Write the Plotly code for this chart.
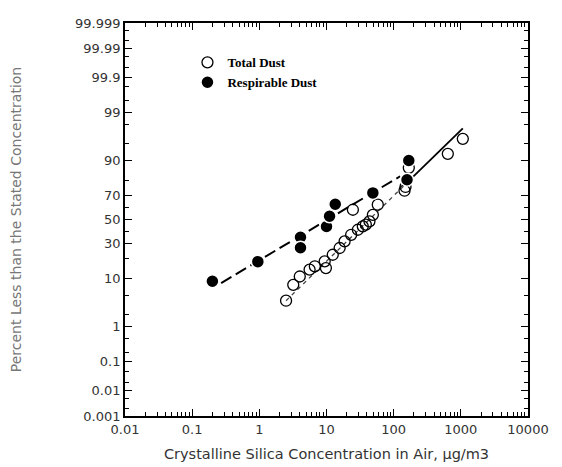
import math
import plotly.graph_objects as go

# ---------------- data ----------------
resp_conc = [0.2, 0.95, 4.1, 4.1, 10, 11.1, 13.5, 49, 158, 168]
resp_pct = [9, 18, 35, 27, 44, 52.8, 63, 71.8, 80.6, 90]

total_conc = [2.5, 3.2, 4.0, 5.6, 6.7, 9.4, 9.8, 12.4, 15.7, 18.6, 23.3, 24.7,
              29.3, 34.7, 38.5, 43.6, 49, 58, 145, 150, 168, 640, 1070]
total_pct = [3.9, 7.8, 10.8, 13.8, 15.5, 18.2, 14.6, 22.2, 26.8, 31.8, 37, 58.4,
             41.2, 44.1, 45.6, 48.4, 54, 62.6, 73.4, 76, 86.9, 92.3, 96]

resp_fit_conc = [0.27, 125]
resp_fit_pct = [8.4, 82.6]
total_fit_low_conc = [2.5, 150]
total_fit_low_pct = [3.9, 77.8]
total_fit_high_conc = [150, 1070]
total_fit_high_pct = [77.8, 97.6]

y_tick_labels = ["0.001", "0.01", "0.1", "1", "10", "30", "50", "70", "90",
                 "99", "99.9", "99.99", "99.999"]
y_minor_pct = [0.002, 0.005, 0.02, 0.05, 0.2, 0.5, 2, 5, 20, 40, 60, 80, 95,
               98, 99.5, 99.8, 99.95, 99.98, 99.995, 99.998]
x_tick_vals = [0.01, 0.1, 1, 10, 100, 1000, 10000]
x_tick_labels = ["0.01", "0.1", "1", "10", "100", "1000", "10000"]


# -------- probability (probit) scale --------
def probit(pct):
    p = pct / 100.0
    lo, hi = -10.0, 10.0
    for _ in range(200):
        mid = 0.5 * (lo + hi)
        if 0.5 * (1 + math.erf(mid / math.sqrt(2))) < p:
            lo = mid
        else:
            hi = mid
    return 0.5 * (lo + hi)


def pz(lst):
    return [probit(v) for v in lst]


x_minor = [k * 10 ** d for d in range(-2, 4) for k in range(2, 10)]

fig = go.Figure()

# fitted lines
fig.add_trace(go.Scatter(x=resp_fit_conc, y=pz(resp_fit_pct), mode="lines",
                         line=dict(color="black", width=2, dash="12px,5px"),
                         showlegend=False, hoverinfo="skip"))
fig.add_trace(go.Scatter(x=total_fit_low_conc, y=pz(total_fit_low_pct), mode="lines",
                         line=dict(color="#444", width=1.3, dash="4px,4px"),
                         showlegend=False, hoverinfo="skip"))
fig.add_trace(go.Scatter(x=total_fit_high_conc, y=pz(total_fit_high_pct), mode="lines",
                         line=dict(color="black", width=1.8),
                         showlegend=False, hoverinfo="skip"))

# data points
fig.add_trace(go.Scatter(x=total_conc, y=pz(total_pct), mode="markers",
                         name="Total Dust",
                         marker=dict(symbol="circle-open", size=11, color="black",
                                     line=dict(width=1.3, color="black"))))
fig.add_trace(go.Scatter(x=resp_conc, y=pz(resp_pct), mode="markers",
                         name="Respirable Dust",
                         marker=dict(symbol="circle", size=13, color="black",
                                     line=dict(width=1.5, color="white"))))

ylim = probit(99.999)

fig.update_layout(
    width=562, height=467,
    margin=dict(l=117, r=42, t=15, b=59),
    paper_bgcolor="white", plot_bgcolor="white",
    font=dict(family="DejaVu Sans", size=13, color="#222"),
    showlegend=True,
    legend=dict(x=0.155, y=0.938, xanchor="left", yanchor="top",
                bgcolor="rgba(0,0,0,0)", borderwidth=0,
                font=dict(family="Liberation Serif", size=13, color="black",
                          weight="bold"),
                tracegroupgap=2),
    xaxis=dict(
        type="log", range=[-2, 4], automargin=False,
        tickvals=x_tick_vals, ticktext=x_tick_labels,
        ticks="inside", ticklen=7, tickwidth=1.3, tickcolor="black",
        showline=True, linecolor="black", linewidth=1.8, mirror="ticks",
        showgrid=False, zeroline=False,
        minor=dict(tickvals=x_minor, ticks="inside", ticklen=4,
                   tickcolor="black", tickwidth=1, showgrid=False),
        title=dict(text="Crystalline Silica Concentration in Air, μg/m3",
                   font=dict(family="DejaVu Sans", size=14.5, color="#333"),
                   standoff=13),
        tickfont=dict(family="DejaVu Sans", size=13, color="#333"),
    ),
    yaxis=dict(
        range=[-ylim, ylim], automargin=False,
        tickvals=pz([float(v) for v in y_tick_labels]), ticktext=y_tick_labels,
        ticks="inside", ticklen=7, tickwidth=1.3, tickcolor="black",
        showline=True, linecolor="black", linewidth=1.8, mirror="ticks",
        showgrid=False, zeroline=False,
        minor=dict(tickvals=pz(y_minor_pct), ticks="inside", ticklen=4,
                   tickcolor="black", tickwidth=1, showgrid=False),
        title=dict(text="Percent Less than the Stated Concentration",
                   font=dict(family="DejaVu Sans", size=14, color="#777"),
                   standoff=50),
        tickfont=dict(family="DejaVu Sans", size=13, color="#333"),
    ),
)

fig.write_html("out.html")
